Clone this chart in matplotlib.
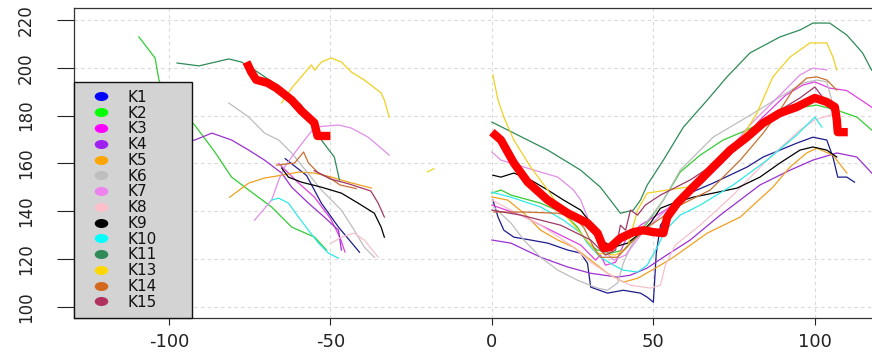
import numpy as np
import matplotlib
matplotlib.use("Agg")
import matplotlib.pyplot as plt
from matplotlib.lines import Line2D
from matplotlib.markers import MarkerStyle
from matplotlib.transforms import Affine2D

nan = np.nan

labels = ["K1", "K2", "K3", "K4", "K5", "K6", "K7", "K8", "K9", "K10", "K11", "K13", "K14", "K15"]
legend_colors = ["#0000FF", "#00FF00", "#FF00FF", "#A020F0", "#FFA500", "#BEBEBE", "#EE82EE",
                 "#FFC0CB", "#000000", "#00FFFF", "#2E8B57", "#FFD700", "#D2691E", "#B03060"]
line_colors = ["#1c1c8c", "#33cc33", "#e040e0", "#9a30d0", "#f0a020", "#bdbdbd", "#e08ee8",
               "#f6c0cc", "#000000", "#30e8e8", "#2E8B57", "#f0d020", "#c87030", "#a03868"]

k1_x = [-64, -57.4, -52.8, -47.5, -41, nan, 0.3, 1.9, 3.7, 6.8, 12, 17.3, 23.5, 27.5, 29.6, 30.6, 35.8, 40.7,
        46, 48.1, 50, 50.9, 52.2, 58.3, 68.5, 79, 84, 94.4, 99.4, 103.7, 105.6, 107.1, 109.9, 112.3]
k1_y = [162, 155, 143.4, 133.4, 122.9, nan, 144.7, 137.6, 132.1, 129.2, 128, 126.7, 123.8, 122.5, 118.3, 108.3,
        105.8, 107, 105.8, 104.1, 102, 122.5, 134.2, 145.9, 151.8, 158.5, 162.7, 168.5, 171, 169.8, 162.7,
        154.3, 154.3, 152.2]

k2_x = [-109.3, -104.3, -103.1, -100, -95, -92, -85.8, -80.6, -75.3, -68.2, -62, -54.9, -51.2, nan,
        0, 2.8, 5.9, 15.1, 22.2, 26.5, 29.6, 32.7, 36.7, 40.7, 43.8, 48.1, 53.1, 58.3, 64.5, 71.6, 79, 87,
        94.4, 100.6, 106.8, 113, 117.6]
k2_y = [212.9, 204.1, 194.9, 186, 180, 176, 164.8, 154.3, 148.9, 141.8, 133.4, 129.2, 123.8, nan,
        147.6, 148.9, 146.8, 143.4, 139.2, 133.4, 126.7, 123.8, 122.5, 123.8, 128, 135.1, 144.7, 156.4,
        163.5, 169.8, 174, 179.4, 183.2, 184.4, 182.3, 179.4, 174]

k3_x = [-66, -60, -55, -50, -47, -45.5, nan, 0, 9, 18.2, 27.5, 32.1, 33.6, 35.2, 38.3, 41.4, 46, 53.7, 64.5,
        73.8, 83, 91, 96.3, 100, 104.6, 109.9, 116, 117.6]
k3_y = [160, 152, 146, 137, 129, 123, nan, 142.6, 138.4, 132.1, 125.9, 119.6, 121.7, 117.5, 118.7, 128,
        134.2, 140.5, 151, 163.5, 178.2, 188.6, 192.8, 194.1, 191.5, 190.5, 185, 183.5]

k4_x = [-95, -92, -86.7, -80.6, -75.3, -70.4, -65.1, -62, -56.8, -51.9, -47.5, -46.6, nan,
        0, 5.9, 15.1, 23.5, 30.6, 38.9, 42.9, 48.1, 53.1, 61.4, 70.7, 83, 92.3, 99.4, 106.8, 113, 117.6]
k4_y = [169, 169.8, 172.7, 169.8, 165.6, 161.4, 156, 150.1, 143.4, 137.6, 132.1, 123.8, nan,
        128, 126.7, 120.8, 116.7, 114.1, 112.5, 113.3, 116.3, 120.8, 128, 138.4, 151, 157.2, 161.4, 164.4,
        162.7, 156]

k5_x = [-81.2, -75.3, -70.4, -65.1, -59.9, -54.9, -49.7, -44.4, -37.3, nan,
        0, 4.9, 9.9, 15.1, 20.4, 25.3, 30.6, 35.8, 40.7, 45.1, 51.2, 56.2, 66.7, 76.9, 87, 92.3, 97.5,
        100.6, 105.6, 109.9]
k5_y = [145.9, 151.8, 153.9, 155.1, 156.4, 156, 154.3, 152.2, 149.7, nan,
        146, 144.7, 139.2, 132.1, 128, 125, 119.6, 114.1, 110.4, 112, 116.7, 120.8, 130.9, 137.6, 150.1,
        158.5, 164.4, 166.4, 163.5, 156]

k6_x = [-81.5, -75.3, -70.4, -66, -62, -52.8, -46.6, -42.6, -39.5, -36.4, nan,
        0.6, 5.9, 9.9, 15.1, 20.4, 26.5, 32.7, 35.8, 38.9, 40.7, 42.9, 46, 49.1, 53.1, 58.3, 68.5, 79, 89.2,
        96.3, 100.6, 103.7, 105.2, 106.2]
k6_y = [185.3, 179.4, 172.7, 169.8, 164.4, 148.9, 140.5, 132.1, 125, 120.8, nan,
        141.8, 135.1, 128, 120.8, 115.4, 111.2, 107.9, 107, 110, 118.3, 125, 132.1, 137.6, 144.7, 157.2,
        171, 179.4, 187.8, 193.6, 194.9, 194.1, 186.5, 179]

k7_x = [-73.5, -68.2, -66, -64.2, -61.1, -58, -54.9, -47.5, -43.5, -38.3, -31.8, nan,
        0, 2.8, 9.9, 20.4, 25.3, 27.5, 29.6, 32.7, 34.6, 37.7, 41.4, 46, 52.2, 61.4, 70.7, 79.9, 89.2, 95.4,
        99.4, 103.7]
k7_y = [136.3, 144.7, 153.1, 158.5, 164.4, 169.8, 175.2, 176.1, 174.8, 171, 163.5, nan,
        164.8, 161.4, 158.5, 154.3, 148.9, 144.7, 137.6, 128, 123.8, 119.6, 121.7, 130, 138.4, 148.9, 161.4,
        176.1, 188.6, 197, 199.9, 199.1]

k8_x = [-49.7, -46.6, -42.6, -39.5, -35.2, nan,
        0, 5.9, 15.1, 24.4, 30.6, 36.7, 42.9, 49.1, 52.2, 53.7, 56.8, 64.5, 74.7, 85.2, 95.4, 100, 107.7]
k8_y = [126.7, 129.2, 130.9, 128, 120.8, nan,
        144.7, 140.5, 134.2, 125.9, 118.7, 113.3, 109.1, 107.9, 109.1, 117.5, 125.9, 134.2, 146.8, 161.4,
        174, 178.2, 181.5]

k9_x = [-65.1, -63, -59, -52.8, -46.6, -41.4, -36.4, -34.3, -33.3, nan,
        0.3, 2.8, 6.8, 12, 17.3, 22.2, 27.5, 30.6, 33.6, 37.7, 42, 46, 49.1, 52.2, 56.2, 62.3, 68.5, 75.9,
        83, 89.2, 95.4, 99.4, 103.7, 106.8]
k9_y = [158.1, 154.3, 152.2, 150.1, 147.6, 143.4, 139.2, 133.4, 129.2, nan,
        155.1, 154.3, 156, 153.1, 148.9, 144.7, 140.5, 135.1, 128, 125, 126.7, 130.9, 135.1, 141.3, 143.4,
        145.9, 147.6, 149.7, 154.3, 160.2, 165.6, 166.9, 165.6, 162.7]

k10_x = [-68.2, -66, -63, -59.9, -56.8, -53.7, -50.6, -47.5, nan,
         0, 5.9, 15.1, 22.2, 27.5, 30.6, 33.6, 37.7, 40.7, 45.1, 48.1, 51.2, 53.7, 58.3, 64.5, 74.7, 85.2,
         94.4, 100, 102.2]
k10_y = [144.7, 145.5, 143.4, 137.6, 132.1, 126.7, 122.5, 120.4, nan,
         148, 145.9, 141.8, 136.3, 130.9, 125, 120.8, 117.5, 115.4, 114.6, 117.5, 125, 132.1, 138.4, 142.6,
         151, 161.4, 171.9, 179.4, 175.2]

k11_x = [-97.5, -90.7, -81.5, -77.5, -73.5, -65.1, -59, -54.9, -52.8, -48.8, -47.2, nan,
         0, 6.8, 17.3, 27.5, 33.6, 39.8, 43.8, 46, 48.1, 53.1, 59.3, 66.7, 72.8, 79.9, 89.2, 95.4, 99.4,
         104.6, 109.9, 114.8, 117.6]
k11_y = [202, 200.8, 203.7, 202.4, 199.1, 191.5, 184.4, 176.9, 169.8, 162.7, 153.1, nan,
         177.3, 172.7, 165.6, 157.2, 150.1, 139.2, 140.5, 144.7, 151, 161.4, 175.2, 186.5, 196.2, 206.2,
         212.9, 215.8, 218.7, 218.7, 213.7, 206.2, 199]

k13_x = [-65.1, -62, -55.9, -54.9, -52.8, -49.7, -46.6, -43.5, -39.5, -34.3, -33.3, -31.8, nan, -19.9, -18,
         nan, 0.3, 1.9, 3.7, 6.8, 12, 17.3, 22.2, 27.5, 32.7, 38.3, 42, 45.1, 48.1, 54.3, 60.5, 68.5, 76.9,
         82.1, 87, 92.3, 98.5, 103.7, 105.6, 106.8]
k13_y = [185.3, 191.5, 201.2, 199, 202.4, 204.1, 202.4, 198.2, 194.9, 189.5, 186.5, 179.4, nan, 156.5, 157.8,
         nan, 197, 186.5, 179.4, 169.8, 158.5, 148.9, 139.2, 130.9, 122.5, 121.7, 125, 140.5, 147.6, 148.9,
         150.1, 158.5, 169.8, 181.1, 196.2, 204.5, 210.4, 210.4, 204.5, 199.1]

k14_x = [-66.7, -61.1, -58.3, -56.8, -53.7, -50.6, -47, -42, nan,
         0.6, 9.9, 20.4, 25.3, 28.4, 31.5, 33.6, 38.9, 42.9, 49.1, 58.3, 67.6, 76.9, 84, 89.2, 93.2, 97.5,
         100.6, 103.7, 106.8]
k14_y = [159.3, 160.2, 164.8, 160.2, 156, 154.3, 151, 149.5, nan,
         139.7, 139.7, 139.2, 137.6, 133.4, 125, 120.8, 120.8, 126.7, 134.2, 142.6, 148.9, 161.4, 172.7,
         182.3, 190.7, 195.7, 196.2, 194.9, 190.7]

k15_x = [-55, -50, -44.4, -37.5, -35.2, -33.3, nan,
         0, 9, 21.3, 30.6, 35.2, 38.3, 39.8, 41.4, 42.9, 45.1, 47.5, 52.2, 61.4, 70.7, 79.9, 89.2, 95.4, 100,
         103.1, 105.2]
k15_y = [157, 153.5, 151.5, 148.5, 143.4, 137.6, nan,
         140.5, 138.4, 134.2, 128, 121.7, 123.8, 134.2, 132.1, 140.5, 138.4, 142.6, 146.8, 153.1, 161.4,
         171.9, 182.3, 187.4, 192, 186.5, 182.3]

mean_x = [-76, -74.5, -73, -69.5, -66.7, -62, -59, -55, -54, -50, nan,
          0, 2.8, 6.8, 11.1, 17.3, 23.5, 29.6, 32.7, 34.6, 36.7, 39.8, 43.8, 46.9, 50, 53.1, 54.3, 57.4,
          61.4, 64.5, 68.5, 73.8, 79, 84, 89.2, 94.4, 100, 103.7, 106.2, 106.8, 107.1, 110.2]
mean_y = [202.4, 198.2, 195, 193.7, 191.5, 186.5, 182, 177, 171.5, 171.5, nan,
          173.1, 169.8, 160.2, 152.2, 144.7, 139.2, 135.1, 130.9, 124.6, 125, 128.8, 131.3, 132.1, 131.3,
          130.9, 137.6, 143.4, 148.9, 153.1, 158.5, 165.6, 171, 176.9, 181.1, 183.6, 187.4, 185.7, 183.6,
          178.2, 173.1, 173.1]

series_x = [k1_x, k2_x, k3_x, k4_x, k5_x, k6_x, k7_x, k8_x, k9_x, k10_x, k11_x, k13_x, k14_x, k15_x]
series_y = [k1_y, k2_y, k3_y, k4_y, k5_y, k6_y, k7_y, k8_y, k9_y, k10_y, k11_y, k13_y, k14_y, k15_y]

x_ticks = [-100, -50, 0, 50, 100]
y_ticks = [100, 120, 140, 160, 180, 200, 220]

fig = plt.figure(figsize=(8.72, 3.54), dpi=100)
ax = fig.add_axes([74 / 872, 36 / 354, 1 - 74 / 872, 310 / 354])

for xs, ys, c in zip(series_x, series_y, line_colors):
    ax.plot(xs, ys, color=c, lw=0.9, zorder=2)
ax.plot(mean_x, mean_y, color="#ff0000", lw=6, solid_capstyle="butt", solid_joinstyle="round", zorder=3)

ax.set_xlim(-129.4, 117.7)
ax.set_ylim(95.4, 225.0)
ax.set_xticks(x_ticks)
ax.set_yticks(y_ticks)
ax.set_xticklabels([str(v) for v in x_ticks])
ax.set_yticklabels([str(v) for v in y_ticks], rotation=90, va="center")
ax.grid(True, color="#d9d9d9", linestyle=(0, (3, 3)), lw=0.8, zorder=0)
ax.set_axisbelow(True)

ax.tick_params(axis="x", length=5, width=0.8, pad=6, labelsize=13, colors="#222222")
ax.tick_params(axis="y", length=12, width=0.8, pad=16, labelsize=12, colors="#222222")
for s in ["left", "bottom", "top"]:
    ax.spines[s].set_color("#333333")
    ax.spines[s].set_linewidth(0.9)
ax.spines["right"].set_visible(False)

ell = MarkerStyle("o", transform=Affine2D().scale(1.5, 1.0))
handles = [Line2D([], [], linestyle="none", marker=ell, markersize=6.5, markeredgewidth=0,
                  markerfacecolor=c) for c in legend_colors]
leg = ax.legend(handles, labels, loc="lower left", bbox_to_anchor=(0, 0, 118 / 798, 0.765),
                mode="expand", borderaxespad=0, fancybox=False, framealpha=1, facecolor="#d3d3d3",
                edgecolor="#111111", fontsize=11, labelspacing=0.05, borderpad=0.54,
                handlelength=2.44, handletextpad=0.54)
leg.get_frame().set_linewidth(1.0)
for t in leg.get_texts():
    t.set_color("#111111")

fig.savefig("out.png", dpi=100)
